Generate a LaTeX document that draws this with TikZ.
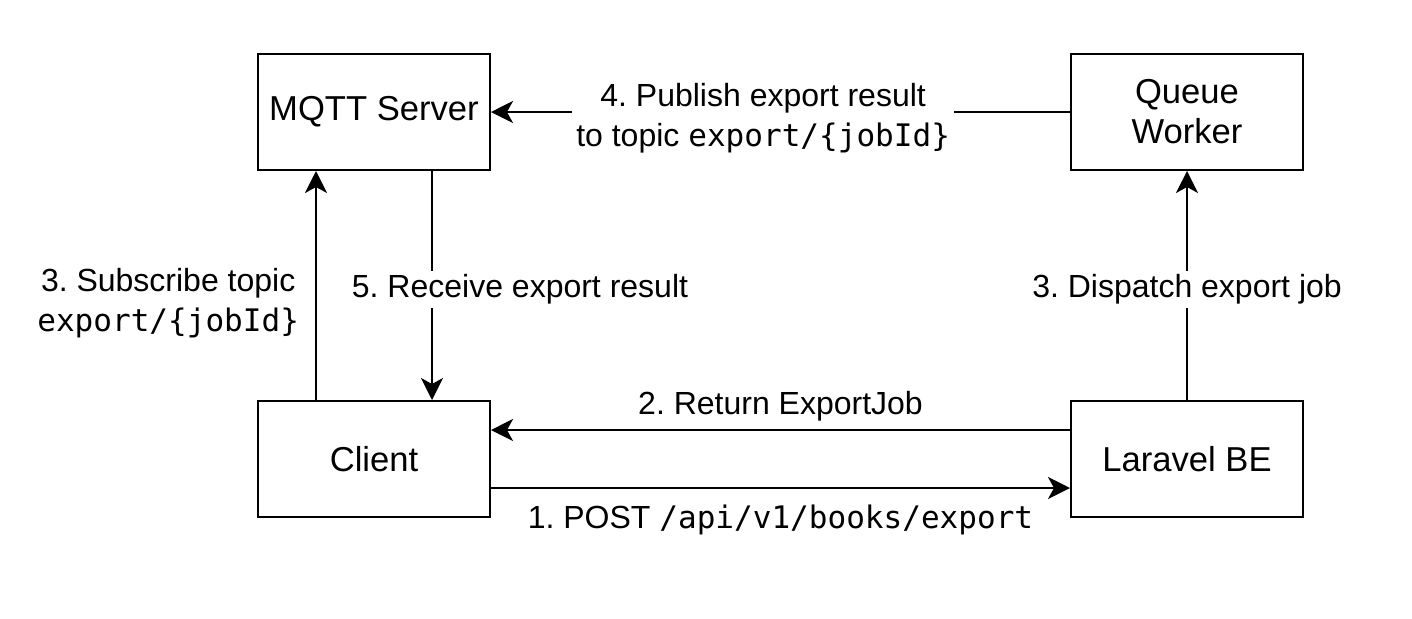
\documentclass[tikz,border=0pt]{standalone}
\usepackage{fontspec}
\setmainfont{Liberation Sans}
\setmonofont{DejaVu Sans Mono}[Scale=0.97]
\usetikzlibrary{arrows.meta}
\frenchspacing
\begin{document}
\begin{tikzpicture}[x=0.5pt,y=-0.5pt,
  box/.style={draw, line width=1pt, minimum width=116pt, minimum height=58pt,
    inner sep=0pt, align=center, font=\fontsize{17.3}{20}\selectfont},
  conn/.style={line width=1pt, -{Stealth[length=11pt,width=11pt,inset=3pt]}},
  lbl/.style={font=\fontsize{16}{20}\selectfont, align=center, inner sep=2pt, fill=white},
  plain/.style={font=\fontsize{16}{20}\selectfont, align=center, inner sep=0pt},
]
\useasboundingbox (0,0) rectangle (1412,618);
\node[box] (mqtt) at (374,112) {MQTT Server};
\node[box] (queue) at (1187,112) {Queue\\Worker};
\node[box] (client) at (374,459) {Client};
\node[box] (laravel) at (1187,459) {Laravel BE};

\draw[conn] (queue.west) -- node[lbl, pos=0.53, yshift=-3pt]
  {4. Publish export result\\to topic \texttt{export/\{jobId\}}} (mqtt.east);

\draw[conn] ([xshift=-29pt]client.north) -- node[plain, anchor=east, xshift=-8pt, yshift=-9pt]
  {3. Subscribe topic\\\texttt{export/\{jobId\}}} ([xshift=-29pt]mqtt.south);

\draw[conn] ([xshift=29pt]mqtt.south) -- node[lbl, xshift=44pt, yshift=-2pt]
  {5. Receive export result} ([xshift=29pt]client.north);

\draw[conn] (laravel.north) -- node[lbl, yshift=-2pt]
  {3. Dispatch export job} (queue.south);

\draw[conn] ([yshift=14.5pt]laravel.west) -- node[plain, anchor=south, yshift=4pt]
  {2. Return ExportJob} ([yshift=14.5pt]client.east);

\draw[conn] ([yshift=-14.5pt]client.east) -- node[plain, anchor=north, yshift=-8pt]
  {1. POST \texttt{/api/v1/books/export}} ([yshift=-14.5pt]laravel.west);
\end{tikzpicture}
\end{document}
